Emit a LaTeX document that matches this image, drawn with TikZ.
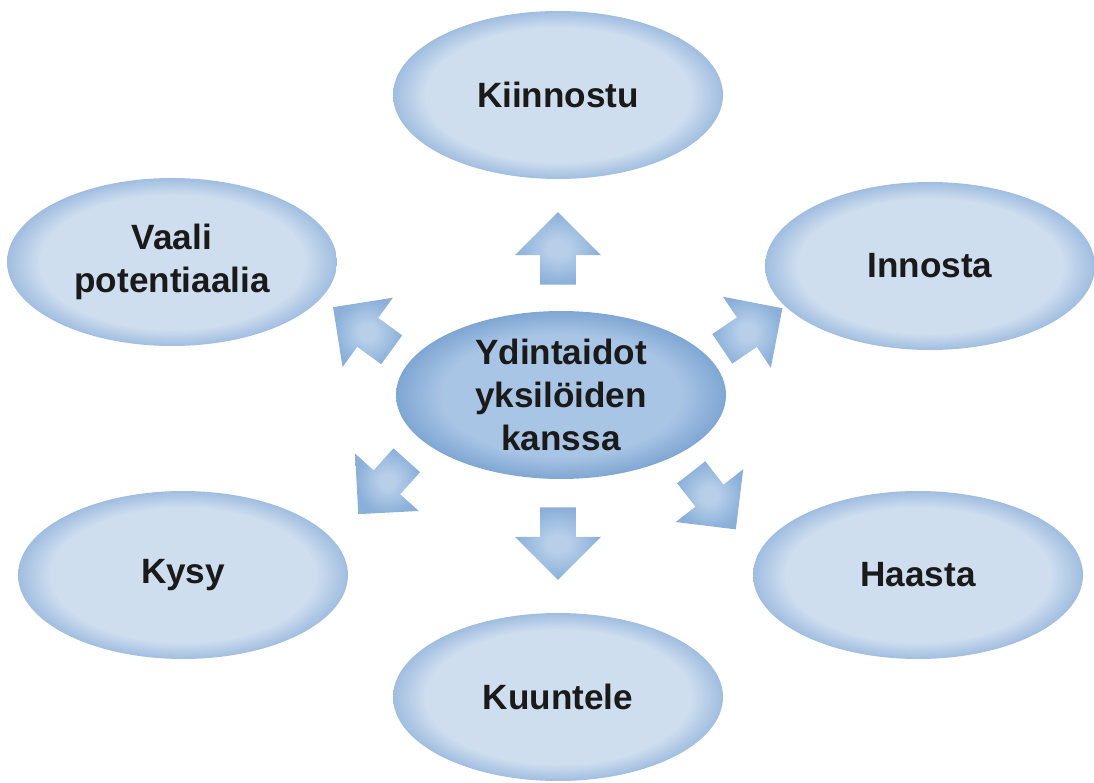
\documentclass[tikz,border=0pt]{standalone}
\usepackage{fontspec}
\setmainfont{Liberation Sans}
\usetikzlibrary{shapes.geometric,shapes.arrows}
\definecolor{ovalin}{HTML}{CFDEEF}
\definecolor{ovalout}{HTML}{A0BDE0}
\definecolor{corein}{HTML}{A9C5E5}
\definecolor{coreout}{HTML}{7FA6D3}
\definecolor{arrowin}{HTML}{B7CFE9}
\definecolor{arrowout}{HTML}{8AAFD9}
\definecolor{inktext}{HTML}{1A1A1A}
\pgfdeclareradialshading{ovalglow}{\pgfpointorigin}{color(0bp)=(ovalin); color(20bp)=(ovalin); color(25bp)=(ovalout); color(50bp)=(ovalout)}
\pgfdeclareradialshading{coreglow}{\pgfpointorigin}{color(0bp)=(corein); color(18bp)=(corein); color(25bp)=(coreout); color(50bp)=(coreout)}
\pgfdeclareradialshading{arrowglow}{\pgfpointorigin}{color(0bp)=(arrowin); color(6bp)=(arrowin); color(25bp)=(arrowout); color(50bp)=(arrowout)}
\tikzset{
  oval/.style={ellipse, shading=ovalglow, minimum width=6.6cm, minimum height=3.36cm, inner sep=0pt, align=center, text=inktext, font=\bfseries\fontsize{20}{24.5}\selectfont},
  core/.style={oval, shading=coreglow},
  bigarrow/.style={single arrow, shading=arrowglow, minimum height=1.45cm, inner xsep=0pt, inner ysep=0.35cm, single arrow head extend=0.5cm, single arrow tip angle=90, anchor=tail},
}
\begin{document}
\begin{tikzpicture}[x=0.02cm, y=-0.02cm]
  \useasboundingbox (0,0) rectangle (1094,783);
  \node[core] (core) at (561,395) {Ydintaidot\\yksilöiden\\kanssa};
  \node[oval] (kiinnostu) at (558,95) {Kiinnostu};
  \node[oval] (vaali) at (172,262) {Vaali\\potentiaalia};
  \node[oval] (innosta) at (930,266) {Innosta};
  \node[oval] (kysy) at (183,575) {Kysy};
  \node[oval] (haasta) at (918,575) {Haasta};
  \node[oval] (kuuntele) at (558,697) {Kuuntele};
  % arrows out of the core
  \node[bigarrow, rotate=90] (tokiinnostu) at (558,285) {};
  \node[bigarrow, rotate=144] (tovaali) at (392,350) {};
  \node[bigarrow, rotate=34] (toinnosta) at (722,349) {};
  \node[bigarrow, rotate=-132] (tokysy) at (407,460) {};
  \node[bigarrow, rotate=-52] (tohaasta) at (691,472) {};
  \node[bigarrow, rotate=-90] (tokuuntele) at (558,507) {};
\end{tikzpicture}
\end{document}
